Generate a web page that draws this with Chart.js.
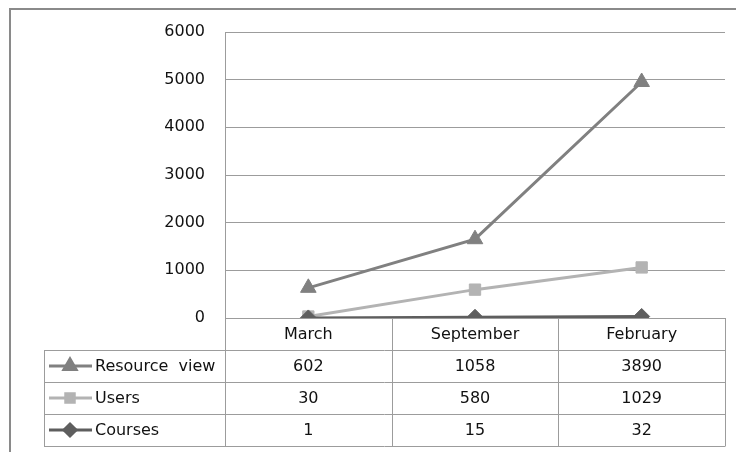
<!DOCTYPE html>
<html>
<head>
<meta charset="utf-8">
<script src="https://cdn.jsdelivr.net/npm/chart.js@4/dist/chart.umd.min.js"></script>
<style>
  html,body{margin:0;padding:0;background:#fff;}
  #wrap{width:736px;height:452px;position:relative;}
</style>
</head>
<body>
<div id="wrap"><canvas id="chart"></canvas></div>
<script>
// ---- data (table values; the chart stacks them like the Excel original) ----
const months = ['March', 'September', 'February'];
const resourceView = [602, 1058, 3890];
const users = [30, 580, 1029];
const courses = [1, 15, 32];
const yTicks = [0, 1000, 2000, 3000, 4000, 5000, 6000];

const FONT = '16px "DejaVu Sans", sans-serif';
const GRID = '#9c9c9c';

// 表の行（上から Resource view / Users / Courses）
const rows = [
  { label: 'Resource  view', values: resourceView, color: '#808080', style: 'triangle', r: 7 },
  { label: 'Users',          values: users,        color: '#b3b3b3', style: 'rect',     r: 6 },
  { label: 'Courses',        values: courses,      color: '#5e5e5e', style: 'rectRot',  r: 6 },
];

// 外枠（上と左だけ）
const framePlugin = {
  id: 'frame',
  beforeDraw(chart){
    const ctx = chart.ctx;
    ctx.save();
    ctx.strokeStyle = '#8a8a8a';
    ctx.lineWidth = 2;
    ctx.beginPath();
    ctx.moveTo(736, 9); ctx.lineTo(10, 9); ctx.lineTo(10, 452);
    ctx.stroke();
    ctx.restore();
  }
};

// データテーブル（x 軸ラベル + 値 + 凡例キー）
const tablePlugin = {
  id: 'dataTable',
  afterDraw(chart){
    const ctx = chart.ctx;
    const a = chart.chartArea;
    const colW = (a.right - a.left) / months.length;
    const rowH = 32;
    const top = a.bottom;
    const tLeft = 44;
    ctx.save();
    ctx.strokeStyle = GRID;
    ctx.lineWidth = 1;
    ctx.beginPath();
    // horizontal
    ctx.moveTo(a.left, top + 0.5); ctx.lineTo(a.right, top + 0.5);
    for(let i = 1; i <= rows.length + 1; i++){
      const y = Math.round(top + i * rowH) + 0.5;
      ctx.moveTo(tLeft, y); ctx.lineTo(a.right, y);
    }
    // vertical
    const bottom = top + (rows.length + 1) * rowH;
    ctx.moveTo(tLeft + 0.5, top + rowH); ctx.lineTo(tLeft + 0.5, bottom + 0.5);
    for(let i = 0; i <= months.length; i++){
      const x = Math.round(a.left + i * colW) + 0.5;
      ctx.moveTo(x, top); ctx.lineTo(x, bottom + 0.5);
    }
    ctx.stroke();

    ctx.font = FONT;
    ctx.fillStyle = '#111';
    ctx.textBaseline = 'middle';
    ctx.textAlign = 'center';
    months.forEach((m, i) => {
      ctx.fillText(m, a.left + (i + 0.5) * colW, top + rowH / 2 + 1);
    });
    rows.forEach((r, ri) => {
      const cy = top + (ri + 1.5) * rowH + 1;
      ctx.textAlign = 'center';
      r.values.forEach((v, i) => ctx.fillText(String(v), a.left + (i + 0.5) * colW, cy));
      ctx.textAlign = 'left';
      ctx.fillText(r.label, 95, cy);
      // legend key
      ctx.strokeStyle = r.color;
      ctx.fillStyle = r.color;
      ctx.lineWidth = 3;
      ctx.beginPath();
      ctx.moveTo(49, cy - 1); ctx.lineTo(92, cy - 1);
      ctx.stroke();
      Chart.helpers.drawPoint(ctx, { pointStyle: r.style, radius: r.r, rotation: 0, borderWidth: 1 }, 70, cy - 1);
      ctx.fillStyle = '#111';
    });
    ctx.restore();
  }
};

const lineDs = (label, data, color, style, radius) => ({
  label, data,
  borderColor: color, backgroundColor: color,
  borderWidth: 3, tension: 0, fill: false,
  pointStyle: style, pointRadius: radius, pointBorderWidth: 1,
  pointBorderColor: color, pointBackgroundColor: color,
});

new Chart(document.getElementById('chart'), {
  type: 'line',
  data: {
    labels: months,
    // stacked: Courses が一番下
    datasets: [
      lineDs('Courses', courses, '#5e5e5e', 'rectRot', 8),
      lineDs('Users', users, '#b3b3b3', 'rect', 8),
      lineDs('Resource view', resourceView, '#808080', 'triangle', 9),
    ]
  },
  options: {
    responsive: true, maintainAspectRatio: false, animation: false,
    layout: { padding: { top: 32, right: 11, bottom: 134, left: 0 } },
    plugins: { legend: { display: false }, tooltip: { enabled: false } },
    scales: {
      x: { display: false, offset: true },
      y: {
        stacked: true, min: 0, max: 6000,
        afterFit: s => { s.width = 225; },
        afterBuildTicks: s => { s.ticks = yTicks.map(v => ({ value: v })); },
        grid: { color: GRID, drawTicks: false },
        border: { color: GRID },
        ticks: { color: '#111', font: { family: 'DejaVu Sans', size: 16 }, padding: 20, callback: v => String(v) }
      }
    }
  },
  plugins: [framePlugin, tablePlugin]
});
</script>
</body>
</html>
